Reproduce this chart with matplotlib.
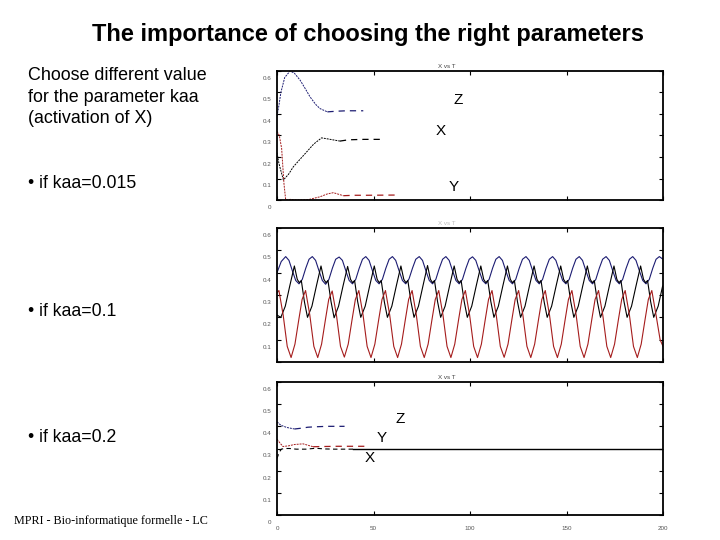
"""Slide: the importance of choosing the right parameters (X, Y, Z vs time)."""
import matplotlib

matplotlib.use("Agg")
import matplotlib.pyplot as plt  # noqa: E402
from matplotlib.transforms import ScaledTranslation  # noqa: E402

plt.rcParams["font.family"] = ["Liberation Sans", "DejaVu Sans"]

BLUE = "#1c1c72"
RED = "#a51c1c"
BLACK = "#000000"

# ---- kaa = 0.015 : damped, settles quickly ----
z1_t = [0.0, 1.0, 2.0, 4.0, 6.8, 9.0, 12.0, 14.5, 17.1, 20.0, 22.3, 26.1, 31.0, 36.0, 44.7]
z1_v = [0.39, 0.44, 0.50, 0.57, 0.60, 0.59, 0.557, 0.52, 0.48, 0.445, 0.425, 0.41, 0.413, 0.415, 0.415]
x1_t = [0.0, 1.0, 3.3, 6.0, 8.5, 12.0, 15.4, 19.0, 23.1, 27.0, 32.6, 37.0, 45.0, 55.1]
x1_v = [0.22, 0.17, 0.093, 0.12, 0.155, 0.19, 0.224, 0.26, 0.289, 0.283, 0.274, 0.28, 0.282, 0.282]
y1_t = [0.0, 1.2, 2.4, 3.6, 4.5, 7.0, 10.4, 16.4, 22.3, 26.0, 29.2, 34.4, 40.0, 46.5, 61.1]
y1_v = [0.32, 0.30, 0.24, 0.077, 0.0, 0.003, 0.0, 0.002, 0.015, 0.028, 0.034, 0.02, 0.022, 0.022, 0.023]

# ---- kaa = 0.1 : sustained oscillations ----
z2_t = [0.0, 2.2,
        4.5, 6.2, 7.9, 9.7, 11.4, 13.1, 14.9, 16.6,
        18.3, 20.0, 21.7, 23.5, 25.2, 26.9, 28.7, 30.4,
        32.2, 33.9, 35.6, 37.4, 39.1, 40.8, 42.6, 44.3,
        46.0, 47.7, 49.4, 51.2, 52.9, 54.6, 56.4, 58.1,
        59.8, 61.5, 63.2, 65.0, 66.7, 68.4, 70.2, 71.9,
        73.7, 75.4, 77.1, 78.9, 80.6, 82.3, 84.1, 85.8,
        87.5, 89.2, 90.9, 92.7, 94.4, 96.1, 97.9, 99.6,
        101.3, 103.0, 104.7, 106.5, 108.2, 109.9, 111.7, 113.4,
        115.1, 116.8, 118.5, 120.3, 122.0, 123.7, 125.5, 127.2,
        129.0, 130.7, 132.4, 134.2, 135.9, 137.6, 139.4, 141.1,
        142.8, 144.5, 146.2, 148.0, 149.7, 151.4, 153.2, 154.9,
        156.6, 158.3, 160.0, 161.8, 163.5, 165.2, 167.0, 168.7,
        170.5, 172.2, 173.9, 175.7, 177.4, 179.1, 180.9, 182.6,
        184.3, 186.0, 187.7, 189.5, 191.2, 192.9, 194.7, 196.4,
        198.1, 200.0]
z2_v = [0.40, 0.45,
        0.472, 0.455, 0.41, 0.365, 0.35, 0.37, 0.42, 0.46,
        0.472, 0.455, 0.41, 0.365, 0.348, 0.37, 0.42, 0.46,
        0.47, 0.455, 0.41, 0.365, 0.35, 0.37, 0.42, 0.46,
        0.472, 0.455, 0.41, 0.365, 0.35, 0.37, 0.42, 0.46,
        0.472, 0.455, 0.41, 0.365, 0.35, 0.372, 0.42, 0.46,
        0.472, 0.455, 0.41, 0.365, 0.35, 0.37, 0.42, 0.46,
        0.472, 0.455, 0.41, 0.365, 0.35, 0.37, 0.42, 0.46,
        0.471, 0.455, 0.41, 0.365, 0.35, 0.37, 0.42, 0.46,
        0.472, 0.455, 0.41, 0.365, 0.35, 0.37, 0.42, 0.46,
        0.472, 0.455, 0.41, 0.365, 0.35, 0.37, 0.42, 0.46,
        0.472, 0.455, 0.41, 0.365, 0.35, 0.37, 0.42, 0.46,
        0.472, 0.455, 0.41, 0.365, 0.35, 0.37, 0.42, 0.46,
        0.472, 0.455, 0.41, 0.365, 0.35, 0.37, 0.42, 0.46,
        0.472, 0.455, 0.41, 0.365, 0.35, 0.37, 0.42, 0.46,
        0.472, 0.46]

x2_t = [0.0,
        2.0, 4.3, 6.6, 9.0, 10.5, 11.6, 12.6, 14.2,
        15.8, 18.1, 20.4, 22.8, 24.3, 25.4, 26.4, 28.0,
        29.6, 31.9, 34.2, 36.6, 38.1, 39.2, 40.2, 41.8,
        43.4, 45.7, 48.0, 50.4, 51.9, 53.0, 54.0, 55.6,
        57.2, 59.5, 61.8, 64.2, 65.7, 66.8, 67.8, 69.4,
        71.0, 73.3, 75.6, 78.0, 79.5, 80.6, 81.6, 83.2,
        84.8, 87.1, 89.4, 91.8, 93.3, 94.4, 95.4, 97.0,
        98.6, 100.9, 103.2, 105.6, 107.1, 108.2, 109.2, 110.8,
        112.4, 114.7, 117.0, 119.4, 120.9, 122.0, 123.0, 124.6,
        126.2, 128.5, 130.8, 133.2, 134.7, 135.8, 136.8, 138.4,
        140.0, 142.3, 144.6, 147.0, 148.5, 149.6, 150.6, 152.2,
        153.8, 156.1, 158.4, 160.8, 162.3, 163.4, 164.4, 166.0,
        167.6, 169.9, 172.2, 174.6, 176.1, 177.2, 178.2, 179.8,
        181.4, 183.7, 186.0, 188.4, 189.9, 191.0, 192.0, 193.6,
        195.2, 197.5, 199.8]
x2_v = [0.21,
        0.20, 0.25, 0.34, 0.43, 0.37, 0.355, 0.365, 0.27,
        0.20, 0.25, 0.34, 0.43, 0.37, 0.355, 0.365, 0.27,
        0.198, 0.25, 0.34, 0.428, 0.37, 0.355, 0.365, 0.27,
        0.20, 0.25, 0.34, 0.43, 0.37, 0.355, 0.365, 0.27,
        0.20, 0.25, 0.34, 0.43, 0.37, 0.355, 0.365, 0.27,
        0.20, 0.25, 0.34, 0.432, 0.37, 0.355, 0.365, 0.27,
        0.20, 0.25, 0.34, 0.43, 0.37, 0.355, 0.365, 0.27,
        0.20, 0.25, 0.34, 0.43, 0.37, 0.355, 0.365, 0.27,
        0.20, 0.25, 0.34, 0.43, 0.37, 0.355, 0.365, 0.27,
        0.20, 0.25, 0.34, 0.43, 0.37, 0.355, 0.365, 0.27,
        0.20, 0.25, 0.34, 0.43, 0.37, 0.355, 0.365, 0.27,
        0.20, 0.25, 0.34, 0.43, 0.37, 0.355, 0.365, 0.27,
        0.20, 0.25, 0.34, 0.43, 0.37, 0.355, 0.365, 0.27,
        0.20, 0.25, 0.34, 0.43, 0.37, 0.355, 0.365, 0.27,
        0.20, 0.25, 0.34]

y2_t = [0.0, 1.0, 3.2, 5.3, 7.3, 9.3, 11.3, 13.0,
        14.8, 17.0, 19.1, 21.1, 23.1, 25.1, 26.8,
        28.6, 30.8, 32.9, 34.9, 36.9, 38.9, 40.6,
        42.4, 44.6, 46.7, 48.7, 50.7, 52.7, 54.4,
        56.2, 58.4, 60.5, 62.5, 64.5, 66.5, 68.2,
        70.0, 72.2, 74.3, 76.3, 78.3, 80.3, 82.0,
        83.8, 86.0, 88.1, 90.1, 92.1, 94.1, 95.8,
        97.6, 99.8, 101.9, 103.9, 105.9, 107.9, 109.6,
        111.4, 113.6, 115.7, 117.7, 119.7, 121.7, 123.4,
        125.2, 127.4, 129.5, 131.5, 133.5, 135.5, 137.2,
        139.0, 141.2, 143.3, 145.3, 147.3, 149.3, 151.0,
        152.8, 155.0, 157.1, 159.1, 161.1, 163.1, 164.8,
        166.6, 168.8, 170.9, 172.9, 174.9, 176.9, 178.6,
        180.4, 182.6, 184.7, 186.7, 188.7, 190.7, 192.4,
        194.2, 196.4, 198.5, 200.0]
y2_v = [0.31, 0.32, 0.21, 0.07, 0.02, 0.08, 0.19, 0.28,
        0.32, 0.21, 0.07, 0.02, 0.08, 0.19, 0.28,
        0.318, 0.21, 0.07, 0.022, 0.08, 0.19, 0.28,
        0.32, 0.21, 0.07, 0.02, 0.08, 0.19, 0.28,
        0.32, 0.21, 0.07, 0.02, 0.08, 0.19, 0.28,
        0.32, 0.21, 0.07, 0.02, 0.08, 0.19, 0.28,
        0.32, 0.21, 0.07, 0.02, 0.08, 0.19, 0.28,
        0.32, 0.21, 0.07, 0.02, 0.08, 0.19, 0.28,
        0.32, 0.21, 0.07, 0.021, 0.08, 0.19, 0.28,
        0.32, 0.21, 0.07, 0.02, 0.08, 0.19, 0.28,
        0.32, 0.21, 0.07, 0.02, 0.08, 0.19, 0.28,
        0.32, 0.21, 0.07, 0.02, 0.08, 0.19, 0.28,
        0.32, 0.21, 0.07, 0.02, 0.08, 0.19, 0.28,
        0.32, 0.21, 0.07, 0.02, 0.08, 0.19, 0.28,
        0.32, 0.21, 0.10, 0.07]

# ---- kaa = 0.2 : fixed point ----
z3_t = [0.0, 2.0, 5.0, 9.1, 13.0, 16.0, 20.0, 26.0, 35.0]
z3_v = [0.42, 0.405, 0.395, 0.388, 0.392, 0.396, 0.398, 0.40, 0.40]
y3_t = [0.0, 1.5, 3.1, 6.0, 9.0, 13.5, 18.7, 24.0, 32.0, 40.0, 47.2]
y3_v = [0.342, 0.325, 0.309, 0.312, 0.318, 0.321, 0.308, 0.309, 0.31, 0.31, 0.31]
x3_t = [0.0, 1.0, 2.2, 4.0, 6.5, 10.0, 15.0, 20.0, 25.0, 30.0, 39.4, 60.0, 100.0, 150.0, 200.0]
x3_v = [0.255, 0.28, 0.297, 0.30, 0.30, 0.297, 0.297, 0.301, 0.298, 0.297, 0.297, 0.297, 0.297, 0.297, 0.297]

y_ticks = [0, 0.1, 0.2, 0.3, 0.4, 0.5, 0.6]
y_tick_labels = ["0", "0.1", "0.2", "0.3", "0.4", "0.5", "0.6"]
x_ticks = [0, 50, 100, 150, 200]
x_tick_labels = ["0", "50", "100", "150", "200"]

# (label, t, value) for the curve names written inside the plots
names1 = [("Z", 94, 0.464), ("X", 85, 0.32), ("Y", 91.5, 0.059)]
names3 = [("Z", 64, 0.434), ("Y", 54.4, 0.347), ("X", 48, 0.256)]


def split(t, v, t_cut):
    """Split a series into the early (finely sampled) part and the dashed tail."""
    head = [(a, b) for a, b in zip(t, v) if a <= t_cut]
    tail = [(a, b) for a, b in zip(t, v) if a >= t_cut]
    return list(zip(*head)), list(zip(*tail))


def draw_settling(ax, t, v, t_cut, color):
    (ht, hv), (tt, tv) = split(t, v, t_cut)
    ax.plot(ht, hv, color=color, linewidth=0.7, linestyle=(0, (2, 1)))
    ax.plot(tt, tv, color=color, linewidth=0.9, linestyle=(0, (5, 4)))


def style_axes(ax, fig, show_x, show_zero=True):
    ax.set_xlim(0, 200)
    ax.set_ylim(0, 0.6)
    ax.set_yticks(y_ticks)
    labels = list(y_tick_labels)
    if not show_zero:
        labels[0] = ""
    ax.set_yticklabels(labels)
    ax.set_xticks(x_ticks)
    if show_x:
        ax.set_xticklabels(x_tick_labels)
    else:
        ax.set_xticklabels([])
    ax.tick_params(direction="in", length=3, width=0.8, top=True, right=True,
                   labelsize=4.5, labelcolor="#555555", pad=4)
    for s in ax.spines.values():
        s.set_linewidth(1.3)
    # the tick labels in the screenshot sit a little below their ticks
    off = ScaledTranslation(0, -5 / 72, fig.dpi_scale_trans)
    for lab in ax.get_yticklabels():
        lab.set_transform(lab.get_transform() + off)


fig = plt.figure(figsize=(7.2, 5.4), dpi=100)

ax1 = fig.add_axes([277 / 720, 1 - 200 / 540, 386 / 720, 129 / 540])
ax2 = fig.add_axes([277 / 720, 1 - 362 / 540, 386 / 720, 134 / 540])
ax3 = fig.add_axes([277 / 720, 1 - 515 / 540, 386 / 720, 133 / 540])

# kaa = 0.015
draw_settling(ax1, z1_t, z1_v, 26.1, BLUE)
draw_settling(ax1, x1_t, x1_v, 32.6, BLACK)
draw_settling(ax1, y1_t, y1_v, 34.4, RED)
for name, t, v in names1:
    ax1.text(t, v, name, fontsize=11, ha="center", va="center")
style_axes(ax1, fig, show_x=False)

# kaa = 0.1
ax2.plot(z2_t, z2_v, color=BLUE, linewidth=0.8)
ax2.plot(x2_t, x2_v, color=BLACK, linewidth=0.8)
ax2.plot(y2_t, y2_v, color=RED, linewidth=0.8)
style_axes(ax2, fig, show_x=False, show_zero=False)

# kaa = 0.2
draw_settling(ax3, z3_t, z3_v, 9.1, BLUE)
draw_settling(ax3, y3_t, y3_v, 18.7, RED)
(ht, hv), (tt, tv) = split(x3_t, x3_v, 39.4)
ax3.plot(ht, hv, color=BLACK, linewidth=0.8, linestyle=(0, (4, 3)))
ax3.plot(tt, tv, color=BLACK, linewidth=1.0)
for name, t, v in names3:
    ax3.text(t, v, name, fontsize=11, ha="center", va="center")
style_axes(ax3, fig, show_x=True)
ax3.tick_params(axis="x", pad=8)

# small plot titles (partly cut off in the source images)
for ax, alpha in [(ax1, 1.0), (ax2, 0.35), (ax3, 1.0)]:
    ax.text(0.44, 1.015, "X vs T", transform=ax.transAxes, fontsize=4.5,
            color="#444444", alpha=alpha, ha="center", va="bottom")

# slide text
fig.text(368 / 720, 1 - 35 / 540, "The importance of choosing the right parameters",
         ha="center", va="center", fontsize=17, fontweight="bold")
fig.text(28 / 720, 1 - 67 / 540,
         "Choose different value\nfor the parameter kaa\n(activation of X)",
         ha="left", va="top", fontsize=12.9, linespacing=1.36)
fig.text(28 / 720, 1 - 184 / 540, "• if kaa=0.015", ha="left", va="center", fontsize=12.7)
fig.text(28 / 720, 1 - 312 / 540, "• if kaa=0.1", ha="left", va="center", fontsize=12.7)
fig.text(28 / 720, 1 - 438 / 540, "• if kaa=0.2", ha="left", va="center", fontsize=12.7)
fig.text(14 / 720, 1 - 521 / 540, "MPRI - Bio-informatique formelle - LC",
         ha="left", va="center", fontsize=8.7, family="Liberation Serif")

fig.savefig("out.png", dpi=100)
plt.close(fig)
